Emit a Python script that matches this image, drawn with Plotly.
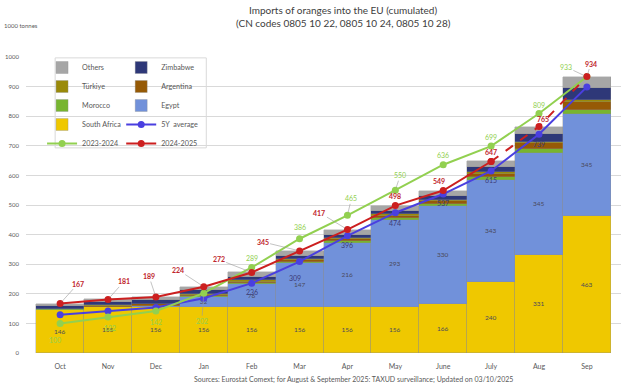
import plotly.graph_objects as go

# ---------------- data ----------------
months = ["Oct", "Nov", "Dec", "Jan", "Feb", "Mar", "Apr", "May", "June", "July", "Aug", "Sep"]
south_africa = [146, 155, 156, 156, 156, 156, 156, 156, 166, 240, 331, 463]
egypt = [0, 0, 2, 32, 76, 147, 216, 293, 330, 343, 345, 345]
morocco = [1, 1, 2, 3, 4, 5, 5, 7, 8, 10, 12, 13]
argentina = [1, 3, 4, 5, 5, 6, 7, 8, 8, 12, 20, 28]
turkiye = [1, 2, 3, 4, 4, 4, 4, 5, 5, 5, 5, 5]
zimbabwe = [9, 10, 11, 12, 11, 10, 11, 12, 13, 18, 27, 42]
others = [9, 10, 11, 12, 16, 17, 18, 17, 19, 19, 25, 38]

avg_5y = [129, 142, 154, 185, 236, 309, 396, 474, 537, 615, 739, 899]
y2023_2024 = [100, 122, 142, 202, 289, 386, 465, 550, 636, 699, 809, 933]
y2024_2025 = [167, 181, 189, 224, 272, 345, 417, 498, 549, 647, 765, 934]
last_actual = 9  # July: data after this point is surveillance (dashed)

# ---------------- styles ----------------
FONT = "Lato"
C_SA = "#EFC800"
C_EG = "#7191DA"
C_MA = "#77B530"
C_AR = "#965A06"
C_TR = "#9A8A0A"
C_ZW = "#2E3878"
C_OT = "#A6A6A6"
C_5Y = "#4A3FE0"
C_23 = "#92D050"
C_24 = "#CC1F1F"

fig = go.Figure()

bar_series = [
    ("South Africa", south_africa, C_SA, "legend", 4, True),
    ("Egypt", egypt, C_EG, "legend2", 3, True),
    ("Morocco", morocco, C_MA, "legend", 3, False),
    ("Argentina", argentina, C_AR, "legend2", 2, False),
    ("Türkiye", turkiye, C_TR, "legend", 2, False),
    ("Zimbabwe", zimbabwe, C_ZW, "legend2", 1, False),
    ("Others", others, C_OT, "legend", 1, False),
]
for name, vals, col, leg, rank, lab in bar_series:
    txt = [str(v) if (lab and v >= 20) else "" for v in vals]
    fig.add_trace(go.Bar(
        x=months, y=vals, name=name,
        marker=dict(color=col, line=dict(color="rgba(140,140,140,0.55)", width=0.6)),
        text=txt, textposition="inside", insidetextanchor="middle", textangle=0,
        textfont=dict(size=6.5, color="#4a4a5a", family=FONT), constraintext="none",
        legend=leg, legendrank=rank, legendgroup=name,
    ))

fig.add_trace(go.Scatter(
    x=months, y=avg_5y, name="5Y  average", mode="lines+markers",
    line=dict(color=C_5Y, width=2), marker=dict(size=7, color=C_5Y),
    legend="legend2", legendrank=4, legendgroup="5y",
))
fig.add_trace(go.Scatter(
    x=months, y=y2023_2024, name="2023-2024", mode="lines+markers",
    line=dict(color=C_23, width=2), marker=dict(size=7, color=C_23),
    legend="legend", legendrank=5, legendgroup="23",
))
fig.add_trace(go.Scatter(
    x=months[last_actual:], y=y2024_2025[last_actual:], name="2024-2025", mode="lines+markers",
    line=dict(color=C_24, width=2, dash="dash"), marker=dict(size=7, color=C_24),
    showlegend=False, legendgroup="24", legend="legend2",
))
fig.add_trace(go.Scatter(
    x=months[:last_actual + 1], y=y2024_2025[:last_actual + 1], name="2024-2025", mode="lines+markers",
    line=dict(color=C_24, width=2), marker=dict(size=7, color=C_24),
    legend="legend2", legendrank=5, legendgroup="24",
))

# ---------------- point labels ----------------
red_off = [(18, -20, True), (16, -18, True), (-7, -21, True), (-26, -17, True), (-33, -13, True),
           (-37, -9, True), (-28, -17, True), (0, -10, False), (-4, -10, False), (0, -9, False),
           (4, -8, False), (4, -13, True)]
green_off = [(-5, 17, False), (2, 11, False), (0, 11, False), (-2, 28, True), (0, -9, False),
             (0, -12, False), (4, -17, True), (5, -15, True), (0, -10, False), (0, -9, False),
             (0, -9, False), (-21, -10, True)]
avg_off = [None, None, None, None, (0, 9, False), (-5, 16, False), (0, 9, False), (0, 10, False),
           (0, 9, False), (0, 9, False), (0, 10, False), None]

annotations = []


def add_labels(vals, offs, color, bold):
    for m, v, o in zip(months, vals, offs):
        if o is None:
            continue
        dx, dy, leader = o
        t = f"<b>{v}</b>" if bold else str(v)
        f = dict(size=7, color=color, family=FONT)
        if leader:
            annotations.append(dict(x=m, y=v, xref="x", yref="y", text=t, showarrow=True,
                                    ax=dx, ay=dy, arrowhead=0, arrowwidth=0.6,
                                    arrowcolor="#9a9a9a", standoff=3, font=f))
        else:
            annotations.append(dict(x=m, y=v, xref="x", yref="y", text=t, showarrow=False,
                                    xshift=dx, yshift=-dy, font=f))


add_labels(avg_5y, avg_off, "#3c3c78", False)
add_labels(y2023_2024, green_off, C_23, False)
add_labels(y2024_2025, red_off, "#C0262C", True)

# titles & notes
annotations += [
    dict(text="Imports of oranges into the EU (cumulated)", xref="paper", yref="paper",
         x=0.533, y=1.159, yanchor="middle", showarrow=False,
         font=dict(size=10, color="#404040", family=FONT)),
    dict(text="(CN codes 0805 10 22, 0805 10 24, 0805 10 28)", xref="paper", yref="paper",
         x=0.533, y=1.115, yanchor="middle", showarrow=False,
         font=dict(size=10, color="#404040", family=FONT)),
    dict(text="1000 tonnes", xref="paper", yref="paper", x=-0.0403, y=1.108,
         xanchor="left", yanchor="middle",
         showarrow=False, font=dict(size=6, color="#595959", family=FONT)),
    dict(text="Sources: Eurostat Comext; for August & September 2025: TAXUD surveillance; Updated on 03/10/2025",
         xref="paper", yref="paper", x=0.551, y=-0.088, showarrow=False, yanchor="middle",
         font=dict(size=7, color="#595959", family=FONT)),
]

leg_font = dict(size=7.2, color="#595959", family=FONT)
fig.update_layout(
    width=626, height=386,
    margin=dict(l=26, r=5, t=57, b=33),
    paper_bgcolor="white", plot_bgcolor="white",
    barmode="stack", bargap=0,
    hovermode=False,
    font=dict(family=FONT, color="#595959"),
    annotations=annotations,
    legend=dict(x=0.027, y=1.0135, xanchor="left", yanchor="top", bgcolor="rgba(0,0,0,0)",
                font=leg_font, tracegroupgap=2.5, itemwidth=30, traceorder="normal"),
    legend2=dict(x=0.160, y=1.0135, xanchor="left", yanchor="top", bgcolor="rgba(0,0,0,0)",
                 font=leg_font, tracegroupgap=2.5, itemwidth=30, traceorder="normal"),
    shapes=[dict(type="rect", xref="paper", yref="paper", x0=0.049, x1=0.303, y0=0.693, y1=0.997,
                 fillcolor="white", line=dict(color="#d9d9d9", width=1), layer="between")],
    xaxis=dict(tickfont=dict(size=7, color="#595959"), showgrid=False, showline=False, ticks="",
               ticklabelstandoff=8),
    yaxis=dict(range=[0, 1000], dtick=100, tickfont=dict(size=6, color="#595959"),
               gridcolor="#d9d9d9", gridwidth=1, zeroline=False, showline=False, ticks="",
               ticklabelstandoff=6),
    showlegend=True,
)

fig.write_html("out.html", config={"displayModeBar": False},
               post_script="document.body.style.margin='0px';")
